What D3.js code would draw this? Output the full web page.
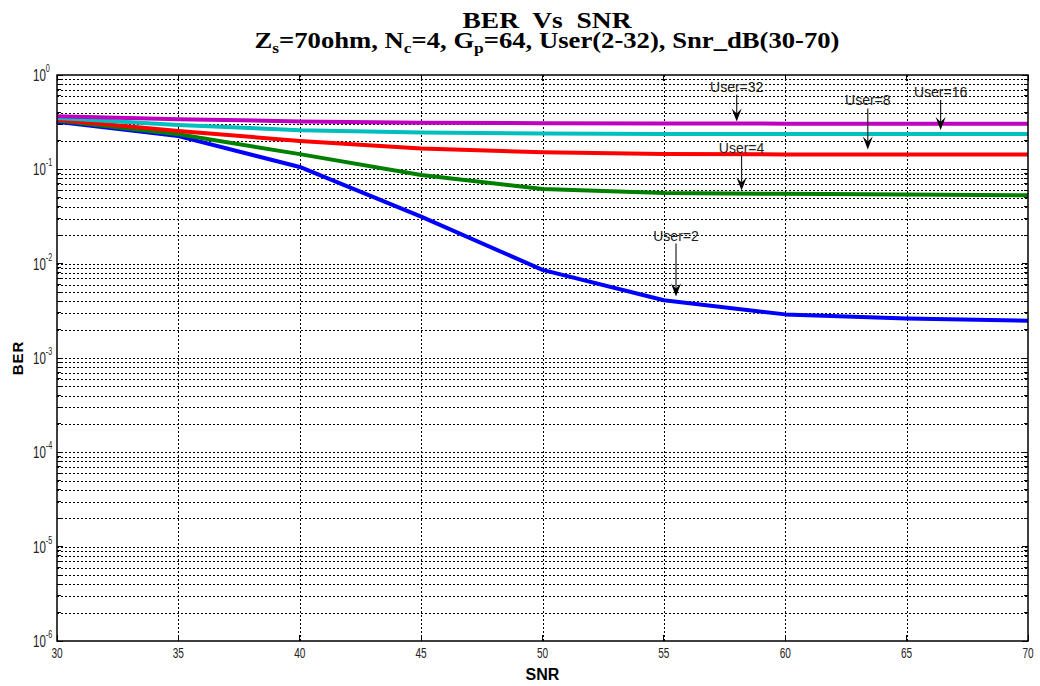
<!DOCTYPE html>
<html><head><meta charset="utf-8">
<script src="https://cdn.jsdelivr.net/npm/d3@7"></script>
<style>body{margin:0;background:#fff}svg{display:block}</style>
</head><body><div id="c"></div>
<script>
const snr = [30,35,40,45,50,55,60,65,70];
const user2  = [0.320,0.225,0.106,0.0315,0.0086,0.0041,0.0029,0.00262,0.00248];
const user4  = [0.330,0.235,0.145,0.087,0.062,0.056,0.055,0.054,0.053];
const user8  = [0.335,0.255,0.200,0.166,0.152,0.145,0.144,0.144,0.144];
const user16 = [0.350,0.295,0.260,0.245,0.240,0.237,0.237,0.237,0.237];
const user32 = [0.365,0.340,0.322,0.312,0.308,0.306,0.305,0.305,0.305];
const seriesNames = ["User=2","User=4","User=8","User=16","User=32"];
const seriesColors = ["#0000ff","#008000","#ff0000","#00bfbf","#bf00bf"];
const xTicks = [30,35,40,45,50,55,60,65,70];
const yExps = [0,-1,-2,-3,-4,-5,-6];
// annotation targets: label, SNR where the arrow points, series index
const annLabels = ["User=32","User=8","User=16","User=4","User=2"];
const annSnr    = [58.0, 63.4, 66.4, 58.2, 55.5];
const annSeries = [4, 2, 3, 1, 0];
// layout of annotations (arrow length / gap to line), pixels
const annLayout = [{len:27,gap:2},{len:41,gap:5},{len:30,gap:4},{len:35,gap:3},{len:53,gap:5}];

const W=1040,H=686, m={l:57,r:12,t:75,b:45};
const svg=d3.select("#c").append("svg").attr("width",W).attr("height",H);
const x=d3.scaleLinear().domain([30,70]).range([m.l,W-m.r]);
const y=d3.scaleLog().domain([1e-6,1]).range([H-m.b,m.t]);
const data=[user2,user4,user8,user16,user32];

// grid
const g=svg.append("g");
const minor=[];
for(let e=-6;e<0;e++) for(let k=2;k<=9;k++) minor.push(k*Math.pow(10,e));
const majors=yExps.map(e=>Math.pow(10,e));
g.selectAll(".hg").data(minor.concat(majors.slice(1,-1))).enter().append("line")
 .attr("x1",m.l).attr("x2",W-m.r).attr("y1",d=>Math.round(y(d))+0.5).attr("y2",d=>Math.round(y(d))+0.5)
 .attr("stroke","#000").attr("stroke-width",1).attr("stroke-dasharray","2,2");
g.selectAll(".vg").data(xTicks.slice(1,-1)).enter().append("line")
 .attr("x1",d=>Math.round(x(d))+0.5).attr("x2",d=>Math.round(x(d))+0.5).attr("y1",m.t).attr("y2",H-m.b)
 .attr("stroke","#000").attr("stroke-width",1).attr("stroke-dasharray","2,2");
// ticks
const tk=svg.append("g").attr("stroke","#000").attr("shape-rendering","crispEdges");
majors.concat(minor).forEach(v=>{
  const L = majors.includes(v)?6:4;
  tk.append("line").attr("x1",m.l).attr("x2",m.l+L).attr("y1",y(v)).attr("y2",y(v));
  tk.append("line").attr("x1",W-m.r).attr("x2",W-m.r-L).attr("y1",y(v)).attr("y2",y(v));
});
xTicks.forEach(v=>{
  tk.append("line").attr("x1",x(v)).attr("x2",x(v)).attr("y1",H-m.b).attr("y2",H-m.b-6);
  tk.append("line").attr("x1",x(v)).attr("x2",x(v)).attr("y1",m.t).attr("y2",m.t+6);
});

// lines
const line=d3.line().x((d,i)=>x(snr[i])).y(d=>y(d));
data.forEach((s,i)=>{
  svg.append("path").datum(s).attr("d",line).attr("fill","none")
   .attr("stroke",seriesColors[i]).attr("stroke-width",4).attr("stroke-linejoin","round");
});

// frame
svg.append("rect").attr("x",m.l).attr("y",m.t).attr("width",W-m.r-m.l).attr("height",H-m.b-m.t)
 .attr("fill","none").attr("stroke","#000").attr("stroke-width",1.5);

// tick labels (condensed like MATLAB output)
const font="Liberation Sans, Arial, Helvetica, sans-serif";
xTicks.forEach(v=>{
  svg.append("g").attr("transform",`translate(${x(v)},${H-m.b+17}) scale(0.72,1)`)
   .append("text").attr("text-anchor","middle").attr("font-family",font).attr("font-size",14).attr("fill","#222").text(v);
});
yExps.forEach(e=>{
  const gg=svg.append("g").attr("transform",`translate(33,${y(Math.pow(10,e))+6}) scale(0.72,1)`);
  const t=gg.append("text").attr("font-family",font).attr("font-size",16).attr("fill","#222");
  t.append("tspan").text("10");
  t.append("tspan").attr("dy",-9).attr("font-size",10).text(e);
});

// axis labels
svg.append("text").attr("x",(m.l+W-m.r)/2).attr("y",680).attr("text-anchor","middle")
 .attr("font-family",font).attr("font-weight","bold").attr("font-size",16).text("SNR");
svg.append("text").attr("transform",`translate(23,${(m.t+H-m.b)/2}) rotate(-90)`).attr("text-anchor","middle")
 .attr("font-family",font).attr("font-weight","bold").attr("font-size",15).attr("letter-spacing",1).text("BER");

// title
const tf="Liberation Serif, Times New Roman, serif";
const cx=547;
svg.append("text").attr("x",cx).attr("y",28).attr("text-anchor","middle").attr("font-family",tf)
 .attr("font-weight","bold").attr("font-size",23).attr("xml:space","preserve")
 .attr("textLength",169).attr("lengthAdjust","spacingAndGlyphs").text("BER  Vs  SNR");
const t2=svg.append("text").attr("x",cx).attr("y",48).attr("text-anchor","middle").attr("font-family",tf)
 .attr("font-weight","bold").attr("font-size",23).attr("textLength",585).attr("lengthAdjust","spacingAndGlyphs");
const parts=[["Z",0],["s",1],["=70ohm, N",0],["c",1],["=4, G",0],["p",1],["=64, User(2-32), Snr_dB(30-70)",0]];
let prevSub=false;
parts.forEach(([txt,sub])=>{
  const ts=t2.append("tspan").text(txt);
  if(sub){ts.attr("font-size",15).attr("dy",5);prevSub=true;}
  else if(prevSub){ts.attr("dy",-5);prevSub=false;}
});

// annotations
function interp(s,xv){
  const i=Math.min(Math.floor((xv-30)/5),7); const t=(xv-snr[i])/5;
  return Math.exp(Math.log(s[i])*(1-t)+Math.log(s[i+1])*t);
}
annLabels.forEach((lab,k)=>{
  const L=annLayout[k];
  const ax=x(annSnr[k]), tip=y(interp(data[annSeries[k]],annSnr[k]))-L.gap;
  const top=tip-L.len;
  svg.append("line").attr("x1",ax).attr("x2",ax).attr("y1",top).attr("y2",tip-6).attr("stroke","#222").attr("stroke-width",1.2);
  svg.append("path").attr("d",`M${ax},${tip} L${ax-5},${tip-13} L${ax},${tip-8} L${ax+5},${tip-13} Z`).attr("fill","#000");
  svg.append("text").attr("x",ax).attr("y",top-3).attr("text-anchor","middle").attr("font-family",font)
   .attr("font-size",14).attr("fill","#222").text(lab);
});
</script></body></html>
